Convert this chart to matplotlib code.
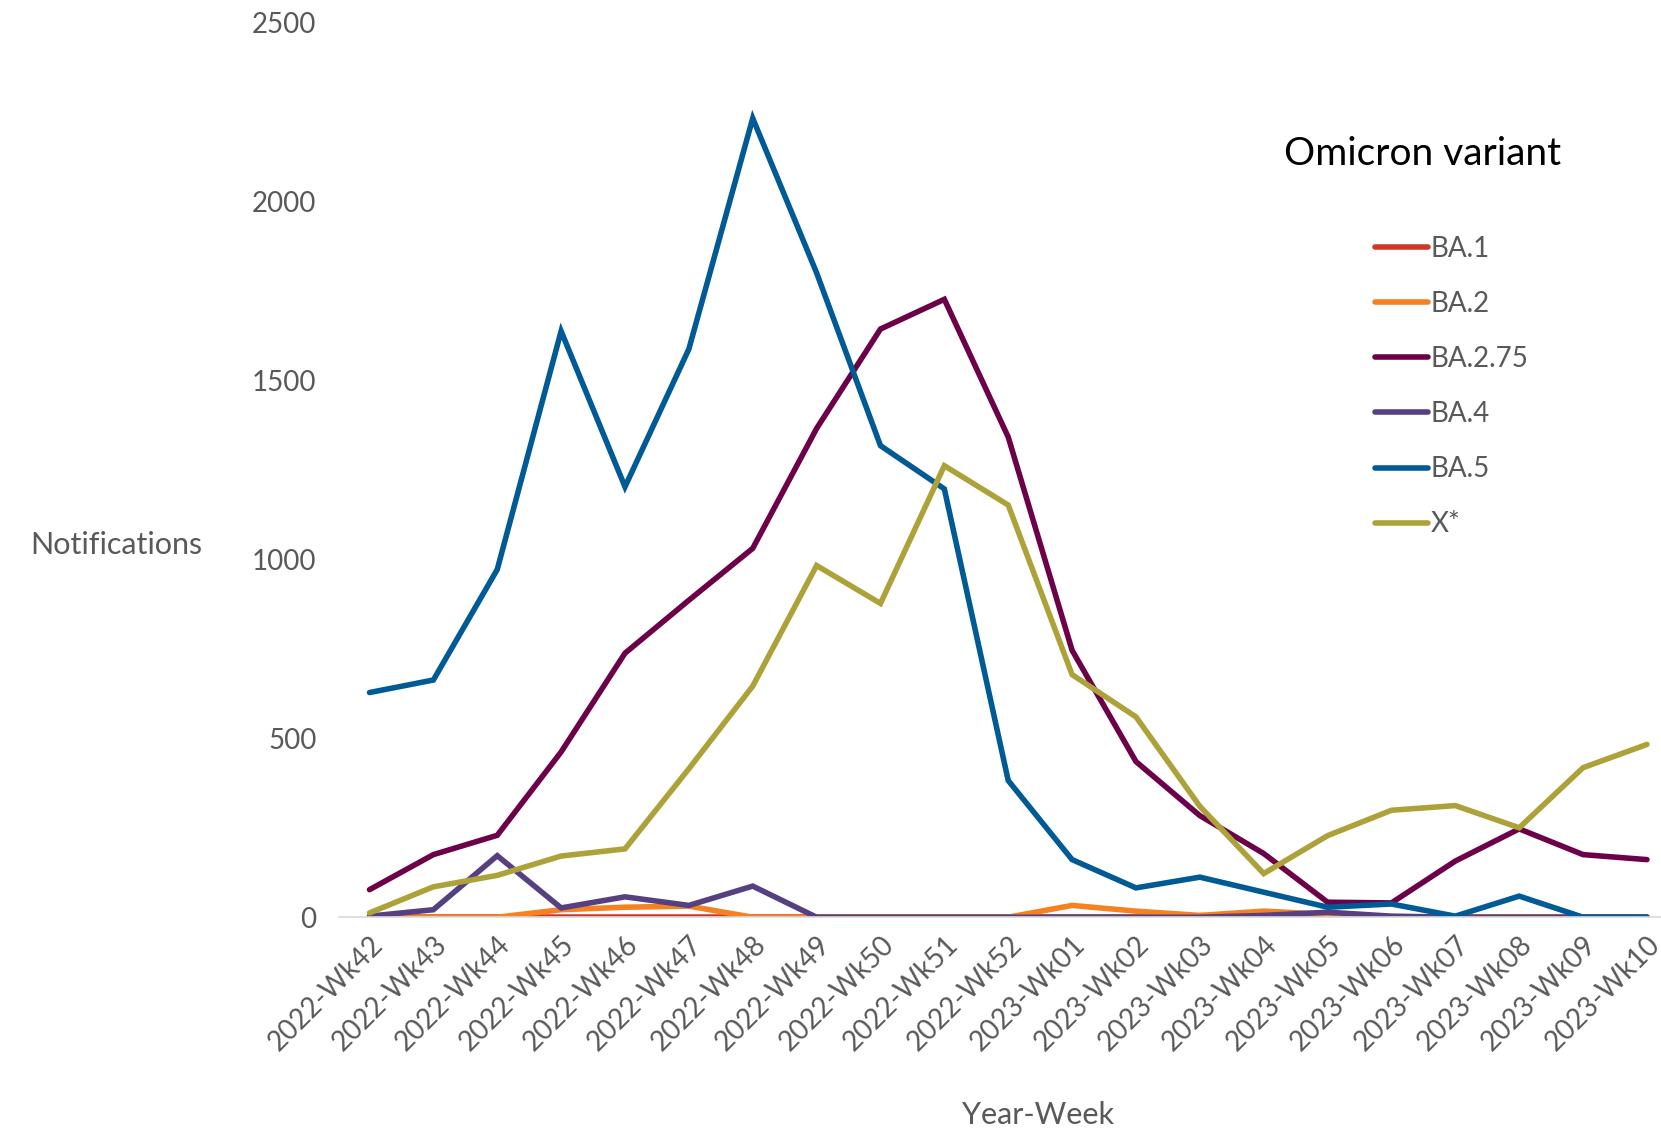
import matplotlib
matplotlib.use("Agg")
import matplotlib.pyplot as plt

plt.rcParams['font.family'] = ['Lato', 'DejaVu Sans']

weeks = ['2022-Wk42', '2022-Wk43', '2022-Wk44', '2022-Wk45', '2022-Wk46', '2022-Wk47',
         '2022-Wk48', '2022-Wk49', '2022-Wk50', '2022-Wk51', '2022-Wk52', '2023-Wk01',
         '2023-Wk02', '2023-Wk03', '2023-Wk04', '2023-Wk05', '2023-Wk06', '2023-Wk07',
         '2023-Wk08', '2023-Wk09', '2023-Wk10']

ba1 = [0] * 21
ba2 = [0, 0, 0, 21, 28, 31, 0, 0, 0, 0, 0, 33, 17, 5, 17, 8, 0, 0, 0, 0, 0]
ba275 = [77, 175, 229, 462, 738, 886, 1031, 1366, 1644, 1727, 1342, 746,
         435, 284, 178, 42, 40, 157, 247, 175, 161]
ba4 = [3, 21, 172, 26, 57, 33, 87, 0, 0, 0, 0, 0, 0, 0, 5, 14, 3, 0, 0, 0, 0]
ba5 = [628, 663, 972, 1638, 1203, 1588, 2233, 1801, 1318, 1197, 382, 161,
       82, 112, 70, 28, 37, 3, 59, 0, 0]
xstar = [12, 85, 117, 171, 191, 415, 646, 983, 877, 1262, 1152, 678,
         560, 310, 122, 228, 299, 312, 250, 418, 483]

series = [('BA.1', ba1, '#D0372C'),
          ('BA.2', ba2, '#F58220'),
          ('BA.2.75', ba275, '#6C0049'),
          ('BA.4', ba4, '#56407F'),
          ('BA.5', ba5, '#005A96'),
          ('X*', xstar, '#ADA239')]

grey = '#595959'

fig = plt.figure(figsize=(16.61, 11.38), dpi=100)
ax = fig.add_axes([0.204, 0.194, 0.796, 0.786])

x = range(len(weeks))
for name, vals, col in series:
    ax.plot(x, vals, color=col, lw=4.0, label=name, solid_capstyle='round',
            solid_joinstyle='miter')

ax.set_xlim(-0.48, 20.22)
ax.set_ylim(0, 2500)
ax.set_yticks([0, 500, 1000, 1500, 2000, 2500])
ax.set_xticks(list(x))
ax.set_xticklabels(weeks, rotation=45, ha='right', rotation_mode='anchor')

for s in ['top', 'right', 'left']:
    ax.spines[s].set_visible(False)
ax.spines['bottom'].set_color('#D9D9D9')
ax.spines['bottom'].set_linewidth(1.2)
ax.tick_params(axis='both', length=0, labelsize=20, colors=grey)
ax.tick_params(axis='y', pad=16)
ax.tick_params(axis='x', pad=10)

ax.set_ylabel('Notifications', rotation=0, fontsize=22, color=grey)
ax.yaxis.set_label_coords(-0.168, 0.4)
ax.set_xlabel('Year-Week', fontsize=22, color=grey)
ax.xaxis.set_label_coords(0.529, -0.206)

fig.text(0.94, 0.865, 'Omicron variant', fontsize=28, color='black', ha='right', va='center')
leg = ax.legend(loc='upper left', bbox_to_anchor=(0.765, 0.79), frameon=False,
                fontsize=20, handlelength=1.9, handletextpad=0.1, labelspacing=1.05)
for t in leg.get_texts():
    t.set_color(grey)

fig.savefig('out.png', dpi=100)
